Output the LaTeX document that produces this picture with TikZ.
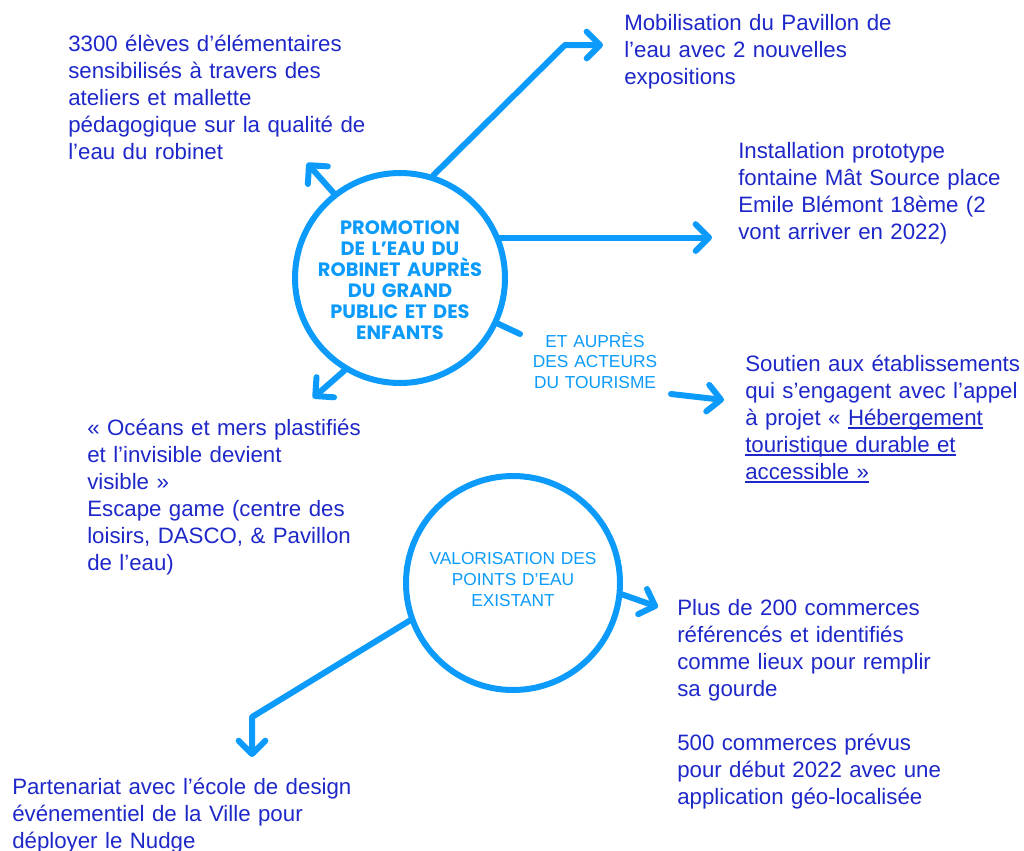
\documentclass[tikz,border=0pt]{standalone}
\usepackage{fontspec}
\setmainfont{Liberation Sans}
\newfontfamily\promfont{Poppins}
\usetikzlibrary{arrows.meta}

\definecolor{eaubleu}{RGB}{12,155,250}
\definecolor{texteblue}{RGB}{30,40,200}

\newlength\lienlen
\newcommand\lien[1]{\leavevmode\settowidth\lienlen{#1}\rlap{\rule[-3pt]{\lienlen}{1.2pt}}#1}

\tikzset{
  bulle/.style={circle, draw=eaubleu, line width=4.5pt, inner sep=0pt},
  fleche/.style={draw=eaubleu, line width=4.5pt, line cap=round, line join=round, -{Straight Barb[length=10pt,width=20pt,round]}},
  trait/.style={draw=eaubleu, line width=4.5pt, line cap=round},
  texte/.style={anchor=base west, inner sep=0pt, text width=290pt, align=left, text=texteblue, font=\fontsize{16.7}{20.25}\selectfont},
  titre/.style={anchor=base, inner sep=0pt, text width=200pt, align=center, text=eaubleu}
}

\begin{document}
\begin{tikzpicture}[x=0.75pt,y=-0.75pt]
\useasboundingbox (0,0) rectangle (1024,850);

\node[bulle, minimum size=157.5pt] (prom) at (400,278) {};
\node[bulle, minimum size=160.5pt] (val) at (513,583) {};

\node[titre, font=\promfont\bfseries\fontsize{14.5}{15.8}\selectfont] (promtxt) at (400,234) {PROMOTION\\DE L’EAU DU\\ROBINET AUPRÈS\\DU GRAND\\PUBLIC ET DES\\ENFANTS};
\node[titre, font=\fontsize{13}{15.5}\selectfont] (tour) at (595,347) {ET AUPRÈS\\DES ACTEURS\\DU TOURISME};
\node[titre, font=\fontsize{13}{16}\selectfont] (valtxt) at (513,564) {VALORISATION DES\\POINTS D’EAU\\EXISTANT};

\node[texte] (eleves) at (68,51) {3300 élèves d’élémentaires\\sensibilisés à travers des\\ateliers et mallette\\pédagogique sur la qualité de\\l’eau du robinet};
\node[texte] (pavillon) at (624,30) {Mobilisation du Pavillon de\\l’eau avec 2 nouvelles\\expositions};
\node[texte] (fontaine) at (738,158) {Installation prototype\\fontaine Mât Source place\\Emile Blémont 18ème (2\\vont arriver en 2022)};
\node[texte] (soutien) at (745,371) {Soutien aux établissements\\qui s’engagent avec l’appel\\à projet « \lien{Hébergement}\\\lien{touristique durable et}\\\lien{accessible »}};
\node[texte] (oceans) at (87,435) {« Océans et mers plastifiés\\et l’invisible devient\\visible »\\Escape game (centre des\\loisirs, DASCO, \& Pavillon\\de l’eau)};
\node[texte] (commerces) at (677,615) {Plus de 200 commerces\\référencés et identifiés\\comme lieux pour remplir\\sa gourde\\[20.25pt]500 commerces prévus\\pour début 2022 avec une\\application géo-localisée};
\node[texte] (nudge) at (12,794) {Partenariat avec l’école de design\\événementiel de la Ville pour\\déployer le Nudge};

\coordinate (eleveTip) at (307,163);
\draw[fleche] (prom.128) -- (eleveTip);
\coordinate (pavCoude) at (565,45);
\coordinate (pavTip) at (603,45);
\draw[fleche] (prom.72) -- (pavCoude) -- (pavTip);
\coordinate (fontTip) at (712,235);
\draw[fleche] (prom.22) -- (prom.22 -| fontTip);
\coordinate (tourStub) at (520,334);
\draw[trait] (prom.-25) -- (tourStub);
\coordinate (tourDep) at (671,394);
\coordinate (tourTip) at (724,400);
\draw[fleche] (tourDep) -- (tourTip);
\coordinate (oceTip) at (313,398);
\draw[fleche] (prom.-121) -- (oceTip);
\coordinate (comTip) at (658,607);
\draw[fleche] (val.-6) -- (comTip);
\coordinate (nudCoude) at (252,717);
\coordinate (nudTip) at (252,757);
\draw[fleche] (val.-160) -- (nudCoude) -- (nudTip);
\end{tikzpicture}
\end{document}
